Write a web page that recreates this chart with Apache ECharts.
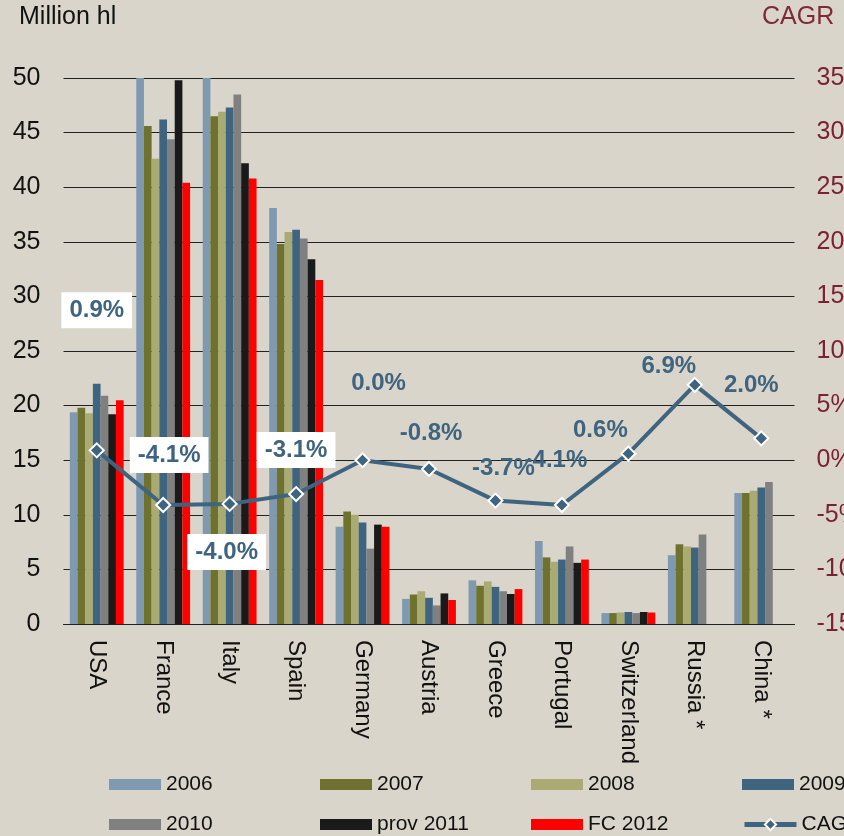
<!DOCTYPE html>
<html>
<head>
<meta charset="utf-8">
<script src="https://cdn.jsdelivr.net/npm/echarts@6/dist/echarts.min.js"></script>
<style>
  html, body { margin: 0; padding: 0; background: #d9d5ca; overflow: hidden; }
  #chart { width: 900px; height: 836px; }
</style>
</head>
<body>
<div id="chart"></div>
<script>
// Wine production by country, million hectolitres, with CAGR line
const countries = ['USA', 'France', 'Italy', 'Spain', 'Germany', 'Austria', 'Greece', 'Portugal', 'Switzerland', 'Russia *', 'China *'];

const prod2006 = [19.4, 52.1, 52.0, 38.1, 8.9, 2.3, 4.0, 7.6, 1.0, 6.3, 12.0];
const prod2007 = [19.8, 45.6, 46.5, 34.8, 10.3, 2.7, 3.5, 6.1, 1.0, 7.3, 12.0];
const prod2008 = [19.3, 42.6, 46.9, 35.9, 10.0, 3.0, 3.9, 5.7, 1.05, 7.1, 12.2];
const prod2009 = [22.0, 46.2, 47.3, 36.1, 9.3, 2.4, 3.4, 5.9, 1.1, 7.0, 12.5];
const prod2010 = [20.9, 44.4, 48.5, 35.3, 6.9, 1.7, 3.0, 7.1, 1.0, 8.2, 13.0];
const prov2011 = [19.2, 49.8, 42.2, 33.4, 9.1, 2.8, 2.75, 5.6, 1.1, null, null];
const fc2012   = [20.5, 40.4, 40.8, 31.5, 8.9, 2.2, 3.2, 5.9, 1.05, null, null];

const cagr = [0.9, -4.1, -4.0, -3.1, 0.0, -0.8, -3.7, -4.1, 0.6, 6.9, 2.0];

const leftTicks = { min: 0, max: 50, interval: 5 };
const rightTicks = { min: -15, max: 35, interval: 5 };

// label placement for the CAGR values (offset from the point, boxed or plain)
const cagrLabelOffsets = [[0, -140], [6, -50], [-3, 48], [0, -44], [16, -77], [2, -36], [8, -32], [-6, -45], [-28, -23], [-26, -18], [-10, -53]];
const cagrLabelBoxed = [true, true, true, true, false, false, false, false, false, false, false];

const barSeriesDefs = [
  { name: '2006', data: prod2006, color: '#7f9ab0' },
  { name: '2007', data: prod2007, color: '#6f722e' },
  { name: '2008', data: prod2008, color: '#a9ab73' },
  { name: '2009', data: prod2009, color: '#3e6480' },
  { name: '2010', data: prod2010, color: '#808080' },
  { name: 'prov 2011', data: prov2011, color: '#1a1a1a' },
  { name: 'FC 2012', data: fc2012, color: '#ff0000' }
];

const lineColor = '#3e6480';
const textFont = "'Liberation Sans', Arial, sans-serif";

const series = barSeriesDefs.map(d => ({
  name: d.name,
  type: 'bar',
  data: d.data,
  yAxisIndex: 0,
  barGap: '0%',
  barCategoryGap: '19%',
  clip: true,
  itemStyle: { color: d.color },
  emphasis: { disabled: true }
}));

series.push({
  name: 'CAGR',
  type: 'line',
  yAxisIndex: 1,
  z: 5,
  symbol: 'diamond',
  symbolSize: 14,
  lineStyle: { color: lineColor, width: 4 },
  itemStyle: { color: lineColor, borderColor: '#ffffff', borderWidth: 2 },
  data: cagr.map((v, i) => ({
    value: v,
    label: {
      show: true,
      position: 'inside',
      offset: cagrLabelOffsets[i],
      formatter: v.toFixed(1) + '%',
      fontFamily: textFont,
      fontWeight: 'bold',
      fontSize: 24,
      lineHeight: 24,
      color: lineColor,
      backgroundColor: cagrLabelBoxed[i] ? '#ffffff' : 'transparent',
      padding: cagrLabelBoxed[i] ? [6, 8] : 0
    }
  })),
  emphasis: { disabled: true }
});

// one legend block per entry, laid out as a 4 x 2 table
const legendNames = ['2006', '2007', '2008', '2009', '2010', 'prov 2011', 'FC 2012', 'CAGR'];
const legendCols = [109, 320, 531, 742];
const legendRows = [773.5, 813.5];
const legends = legendNames.map((n, i) => {
  const isLine = n === 'CAGR';
  const lg = {
    data: [n],
    left: legendCols[i % 4],
    top: legendRows[Math.floor(i / 4)],
    itemWidth: 52,
    itemHeight: isLine ? 14 : 11,
    padding: 0,
    selectedMode: false,
    textStyle: { fontFamily: textFont, fontSize: 21, color: '#111', lineHeight: 22 }
  };
  if (isLine) {
    lg.lineStyle = { width: 5, color: lineColor };
  } else {
    lg.icon = 'rect';
  }
  return lg;
});

const chart = echarts.init(document.getElementById('chart'), null, { renderer: 'canvas' });
chart.setOption({
  backgroundColor: '#d9d5ca',
  animation: false,
  grid: { left: 63.5, right: 105.5, top: 78, bottom: 212 },
  legend: legends,
  xAxis: {
    type: 'category',
    data: countries,
    axisTick: { show: false },
    axisLine: { show: true, lineStyle: { color: '#222', width: 1 } },
    axisLabel: {
      rotate: -90,
      margin: 16,
      fontFamily: textFont,
      fontSize: 24,
      color: '#111',
      interval: 0
    }
  },
  yAxis: [
    {
      type: 'value',
      min: leftTicks.min,
      max: leftTicks.max,
      interval: leftTicks.interval,
      axisLine: { show: false },
      axisTick: { show: false },
      splitLine: { show: true, lineStyle: { color: '#222', width: 1 } },
      axisLabel: { margin: 23, fontFamily: textFont, fontSize: 25, color: '#111' }
    },
    {
      type: 'value',
      min: rightTicks.min,
      max: rightTicks.max,
      interval: rightTicks.interval,
      axisLine: { show: false },
      axisTick: { show: false },
      splitLine: { show: false },
      axisLabel: { margin: 22, fontFamily: textFont, fontSize: 25, color: '#7b2232', formatter: '{value}%' }
    }
  ],
  graphic: [
    { type: 'text', left: 19, top: 5, style: { text: 'Million hl', font: "25px 'Liberation Sans', Arial, sans-serif", fill: '#111' } },
    { type: 'text', left: 762, top: 5, style: { text: 'CAGR', font: "25px 'Liberation Sans', Arial, sans-serif", fill: '#7d2a36' } }
  ],
  series: series
});
</script>
</body>
</html>
